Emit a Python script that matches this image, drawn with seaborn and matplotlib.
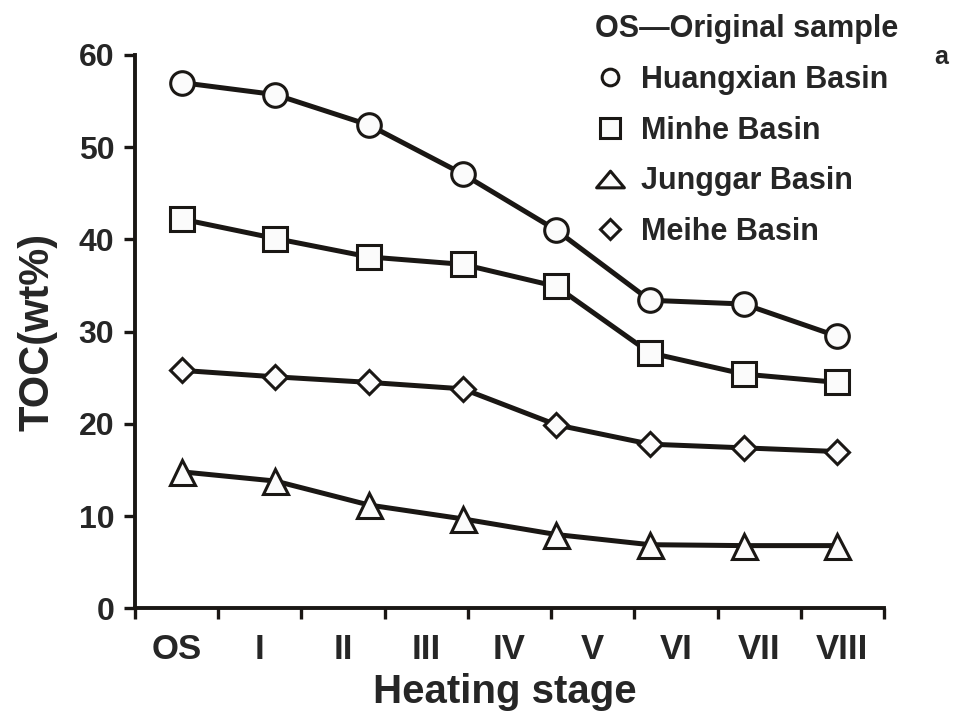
import numpy as np
import pandas as pd
import matplotlib
matplotlib.use("Agg")
import matplotlib.pyplot as plt
from matplotlib.lines import Line2D
from matplotlib.path import Path
import seaborn as sns

# Heating-stage tick labels (OS = original sample)
stages = ["OS", "I", "II", "III", "IV", "V", "VI", "VII", "VIII"]

# TOC (wt%) measured along the heating sequence for each basin
toc_huangxian = [57.0, 55.7, 52.4, 47.1, 41.0, 33.4, 33.0, 29.5]
toc_minhe = [42.2, 40.1, 38.1, 37.3, 34.9, 27.7, 25.4, 24.5]
toc_meihe = [25.8, 25.1, 24.5, 23.8, 19.9, 17.8, 17.4, 17.0]
toc_junggar = [14.8, 13.8, 11.2, 9.7, 8.0, 6.9, 6.8, 6.8]

basins = ["Huangxian Basin", "Minhe Basin", "Junggar Basin", "Meihe Basin"]
series = [toc_huangxian, toc_minhe, toc_junggar, toc_meihe]

df = pd.concat(
    [pd.DataFrame({"step": np.arange(len(v)), "TOC": v, "basin": b})
     for b, v in zip(basins, series)],
    ignore_index=True,
)

sns.set_style("ticks")
plt.rcParams["font.family"] = ["Liberation Sans", "DejaVu Sans"]
plt.rcParams["font.weight"] = "bold"

fig = plt.figure(figsize=(9.55, 7.14), dpi=100)
ax = fig.add_axes([0.1414, 0.148, 0.7843, 0.775])

ink = "#1a1714"
fill = "#fbfbfb"

marker_style = {
    "Huangxian Basin": ("o", 17),
    "Minhe Basin": ("s", 17.5),
    "Junggar Basin": ("^", 18),
    "Meihe Basin": ("D", 12.5),
}

for b in basins:
    m, ms = marker_style[b]
    sub = df[df["basin"] == b]
    sns.lineplot(
        data=sub, x="step", y="TOC", ax=ax, color=ink,
        linewidth=3.6, marker=m, markersize=ms,
        markerfacecolor=fill, markeredgecolor=ink,
        markeredgewidth=2.2, legend=False, zorder=3,
    )

# x axis: nine stage bins spread over the plotted steps
n_steps = len(toc_huangxian)
left, right = -0.5, n_steps - 0.5
width = (right - left) / len(stages)
bounds = left + width * np.arange(len(stages) + 1)
centers = left + width * (np.arange(len(stages)) + 0.5)

ax.set_xlim(left, right)
ax.set_xticks(bounds)
ax.set_xticklabels([])
ax.set_xticks(centers, minor=True)
ax.set_xticklabels(stages, minor=True, fontsize=25, fontweight="bold")
ax.tick_params(axis="x", which="minor", length=0, pad=18)
ax.tick_params(axis="x", which="major", direction="out", length=8, width=2.4,
               color=ink)

ax.set_ylim(0, 60)
ax.set_yticks(np.arange(0, 61, 10))
ax.tick_params(axis="y", direction="out", length=8, width=2.4, pad=7,
               labelsize=23, color=ink)
for lab in ax.get_yticklabels():
    lab.set_fontweight("bold")

sns.despine(ax=ax)
for side in ("left", "bottom"):
    ax.spines[side].set_linewidth(2.8)
    ax.spines[side].set_color(ink)

ax.set_xlabel("Heating stage", fontsize=29, fontweight="bold")
ax.xaxis.set_label_coords(0.494, -0.116)
ax.set_ylabel("TOC(wt%)", fontsize=30, fontweight="bold")
ax.yaxis.set_label_coords(-0.104, 0.5)

# legend: marker-only entries under a note explaining "OS"
flat_triangle = Path([(-1, -0.6), (1, -0.6), (0, 0.6), (-1, -0.6)], closed=True)
legend_markers = {
    "Huangxian Basin": ("o", 12),
    "Minhe Basin": ("s", 14),
    "Junggar Basin": (flat_triangle, 20),
    "Meihe Basin": ("D", 10.5),
}
handles = [
    Line2D([], [], linestyle="none", marker=legend_markers[b][0],
           markersize=legend_markers[b][1], markerfacecolor=fill,
           markeredgecolor=ink, markeredgewidth=2.2)
    for b in basins
]
leg = ax.legend(
    handles, basins, title="OS\u2014Original sample", loc="upper left",
    bbox_to_anchor=(595 / 955, 1 - 14 / 714), bbox_transform=fig.transFigure,
    frameon=False, fontsize=22, title_fontsize=22, alignment="left",
    handlelength=1.0, handletextpad=0.5, borderpad=0, borderaxespad=0,
    labelspacing=0.68,
)
leg.get_title().set_fontweight("bold")
for t in leg.get_texts():
    t.set_fontweight("bold")

fig.text(0.986, 0.92, "a", fontsize=18, fontweight="bold", ha="center",
         va="center")

fig.savefig("out.png", dpi=100)
